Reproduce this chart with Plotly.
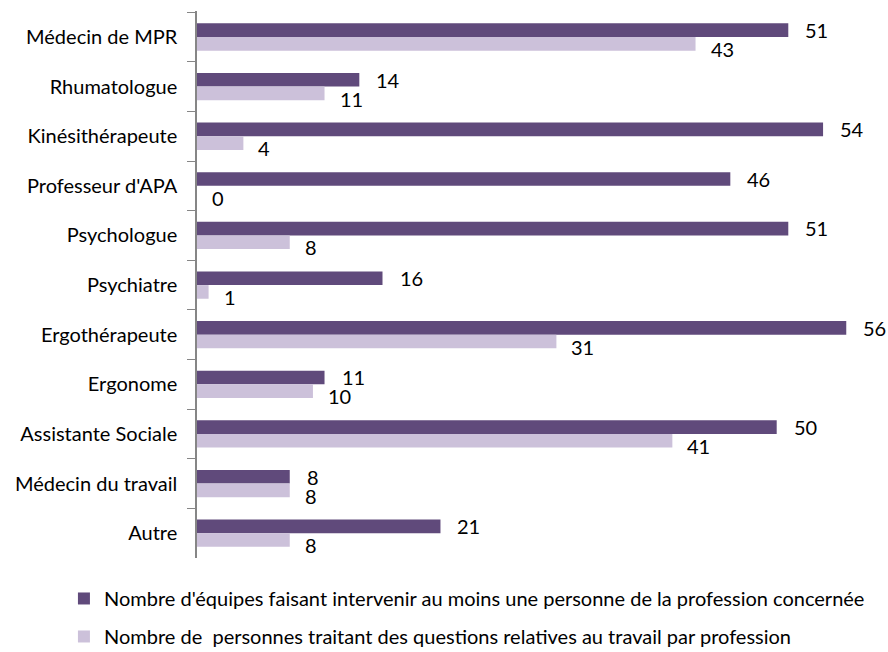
import plotly.graph_objects as go

categories = ["Médecin de MPR", "Rhumatologue", "Kinésithérapeute", "Professeur d'APA",
              "Psychologue", "Psychiatre", "Ergothérapeute", "Ergonome",
              "Assistante Sociale", "Médecin du travail", "Autre"]
equipes = [51, 14, 54, 46, 51, 16, 56, 11, 50, 8, 21]
personnes = [43, 11, 4, 0, 8, 1, 31, 10, 41, 8, 8]
series_names = ["Nombre d'équipes faisant intervenir au moins une personne de la profession concernée",
                "Nombre de  personnes traitant des questions relatives au travail par profession"]
colors = ["#604A7B", "#CCC1DA"]

FONT = "Lato"

fig = go.Figure()
fig.add_trace(go.Bar(y=categories, x=equipes, orientation="h", name=series_names[0],
                     marker=dict(color=colors[0], line=dict(width=0)), legendgroup="a"))
fig.add_trace(go.Bar(y=categories, x=personnes, orientation="h", name=series_names[1],
                     marker=dict(color=colors[1], line=dict(width=0)), legendgroup="b"))

annotations = []
for cat, v in zip(categories, equipes):
    annotations.append(dict(x=v, y=cat, text=str(v), showarrow=False, xanchor="left",
                            yanchor="middle", xshift=15, yshift=7,
                            font=dict(family=FONT, size=20, color="#000")))
for cat, v in zip(categories, personnes):
    annotations.append(dict(x=v, y=cat, text=str(v), showarrow=False, xanchor="left",
                            yanchor="middle", xshift=13, yshift=-12,
                            font=dict(family=FONT, size=20, color="#000")))

fig.update_layout(
    width=888, height=652,
    margin=dict(l=197, r=0, t=11, b=94, autoexpand=False),
    barmode="group", bargap=0.45, bargroupgap=0,
    plot_bgcolor="white", paper_bgcolor="white",
    font=dict(family=FONT, size=20, color="#000"),
    xaxis=dict(range=[0, 59.6], visible=False, showgrid=False, zeroline=False),
    yaxis=dict(autorange="reversed", showline=True, linecolor="#868686", linewidth=1.5,
               ticks="outside", ticklen=8, tickcolor="#868686", tickson="boundaries",
               showgrid=False, tickfont=dict(family=FONT, size=20), ticklabelstandoff=14,
               automargin=False),
    showlegend=True,
    legend=dict(orientation="v", xref="container", x=0.072, xanchor="left",
                yref="container", y=0.112, yanchor="top",
                font=dict(family=FONT, size=20), tracegroupgap=9, traceorder="grouped",
                bgcolor="rgba(0,0,0,0)"),
    annotations=annotations,
)

fig.write_html("out.html", config={"displayModeBar": False},
               post_script="document.body.style.margin='0';document.body.style.overflow='hidden';")
